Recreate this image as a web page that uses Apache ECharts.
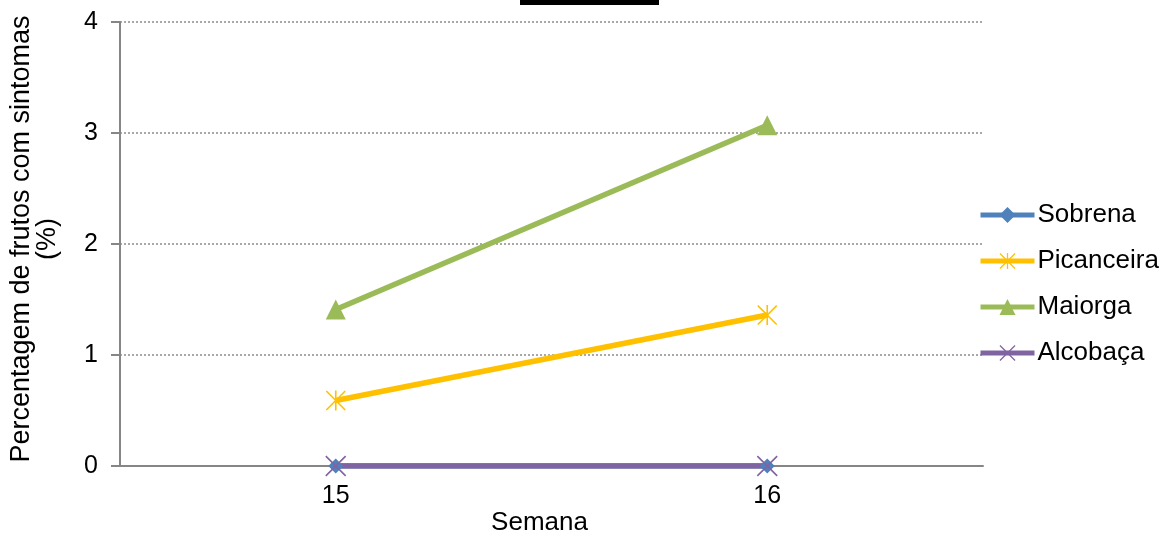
<!DOCTYPE html>
<html>
<head>
<meta charset="utf-8">
<style>
  html, body { margin: 0; padding: 0; background: #ffffff; }
  #chart { width: 1162px; height: 533px; }
</style>
<script src="https://cdn.jsdelivr.net/npm/echarts@6/dist/echarts.min.js"></script>
</head>
<body>
<div id="chart"></div>
<script>
// Weeks on the x axis
const semanas = ['15', '16'];

// Percentage of fruits with symptoms per orchard
const sobrena = [0, 0];
const picanceira = [0.59, 1.36];
const maiorga = [1.41, 3.07];
const alcobaca = [0, 0];

// Y axis range
const yMin = 0;
const yMax = 4;
const yStep = 1;

const FONT = '"Liberation Sans", Arial, sans-serif';

// Asterisk marker (vertical bar + two diagonals)
const starPath = 'path://M9.2 0L10.8 0L10.8 20L9.2 20Z' +
  'M0 1.1L1.1 0L20 18.9L18.9 20Z' +
  'M18.9 0L20 1.1L1.1 20L0 18.9Z';
// Cross marker (two diagonals)
const crossPath = 'path://M0 1.1L1.1 0L20 18.9L18.9 20Z' +
  'M18.9 0L20 1.1L1.1 20L0 18.9Z';

const chart = echarts.init(document.getElementById('chart'), null, { renderer: 'canvas' });

function lineSeries(name, data, color, symbol, size) {
  return {
    name: name,
    type: 'line',
    data: data,
    symbol: symbol,
    symbolSize: size,
    showSymbol: true,
    lineStyle: { color: color, width: 5.5 },
    itemStyle: { color: color },
    emphasis: { disabled: true },
    z: 3
  };
}

chart.setOption({
  animation: false,
  textStyle: { fontFamily: FONT },
  grid: { left: 120, right: 179, top: 22, bottom: 67, containLabel: false, outerBoundsMode: 'none' },
  legend: {
    orient: 'vertical',
    left: 978,
    top: 202,
    padding: 0,
    itemWidth: 54,
    itemHeight: 20,
    itemGap: 20,
    itemStyle: {},
    lineStyle: { width: 5 },
    textStyle: { fontSize: 26, color: '#000000', fontFamily: FONT, lineHeight: 26, padding: [0, 0, 0, -2] },
    data: ['Sobrena', 'Picanceira', 'Maiorga', 'Alcobaça']
  },
  xAxis: {
    type: 'category',
    data: semanas,
    boundaryGap: true,
    name: 'Semana',
    nameLocation: 'middle',
    nameGap: 44,
    nameMoveOverlap: false,
    nameTextStyle: { fontSize: 26, color: '#000000', fontFamily: FONT, padding: [0, 24, 0, 0] },
    axisLine: { show: true, lineStyle: { color: '#868686', width: 2 } },
    axisTick: { show: false },
    axisLabel: { fontSize: 25, color: '#000000', margin: 18, fontFamily: FONT },
    splitLine: { show: false }
  },
  yAxis: {
    type: 'value',
    min: yMin,
    max: yMax,
    interval: yStep,
    name: 'Percentagem de frutos com sintomas\n(%)',
    nameLocation: 'middle',
    nameGap: 59,
    nameMoveOverlap: false,
    nameTextStyle: { fontSize: 27, color: '#000000', fontFamily: FONT, lineHeight: 26, align: 'center', padding: [0, 0, 0, 10] },
    axisLine: { show: true, lineStyle: { color: '#868686', width: 2 } },
    axisTick: { show: true, inside: false, length: 9, lineStyle: { color: '#868686', width: 2 } },
    axisLabel: { fontSize: 25, color: '#000000', margin: 22, fontFamily: FONT },
    splitLine: { show: true, lineStyle: { color: '#8c8c8c', width: 1.5, type: [2, 2] } }
  },
  graphic: [
    {
      type: 'rect',
      shape: { x: 520, y: 0, width: 139, height: 5 },
      style: { fill: '#000000' },
      silent: true
    }
  ],
  series: [
    lineSeries('Sobrena', sobrena, '#4F81BD', 'diamond', 15),
    lineSeries('Picanceira', picanceira, '#FFC000', starPath, 20),
    lineSeries('Maiorga', maiorga, '#9BBB59', 'triangle', 20),
    lineSeries('Alcobaça', alcobaca, '#8064A2', crossPath, 21)
  ]
});
</script>
</body>
</html>
